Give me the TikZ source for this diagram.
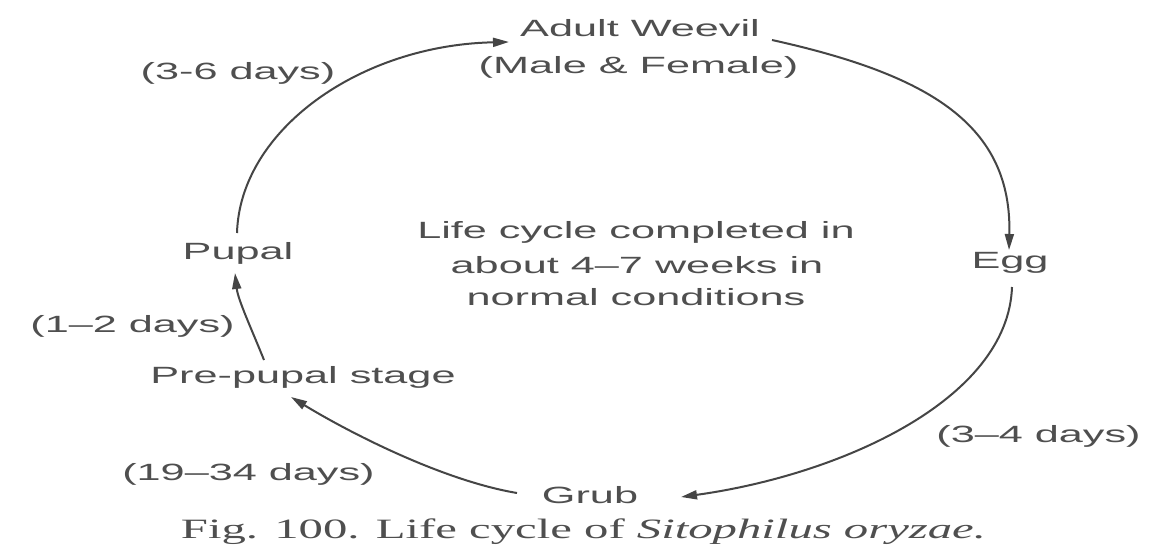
\documentclass[tikz,border=0pt]{standalone}
\usepackage{fontspec}
\usepackage{graphicx}
\setmainfont{Liberation Serif}
\newfontfamily\lblsans{Liberation Sans}
\usetikzlibrary{arrows.meta}
\definecolor{txtgray}{HTML}{4F4F4F}
\definecolor{linegray}{HTML}{454545}
\newcommand{\stretchtxt}[1]{\scalebox{1.84}[1]{#1}}
\newcommand{\stretchcap}[1]{\scalebox{1.74}[1]{#1}}
\tikzset{
  lbl/.style={inner sep=0pt, text=txtgray, font=\lblsans\fontsize{23.5}{28}\selectfont},
  caplbl/.style={inner sep=0pt, text=txtgray, font=\fontsize{28}{32}\selectfont},
  flow/.style={draw=linegray, line width=2pt, -{Triangle[length=16pt,width=9pt]}},
}
\begin{document}
\begin{tikzpicture}[x=1pt,y=-1pt]
\useasboundingbox[fill=white] (0,0) rectangle (1169,546);

% stage nodes
\node[lbl] (adult) at (640,28) {\stretchtxt{Adult Weevil}};
\node[lbl] (male) at (638.5,67) {\stretchtxt{(Male \& Female)}};
\node[lbl] (egg) at (1010,263) {\stretchtxt{Egg}};
\node[lbl] (grub) at (590,495) {\stretchtxt{Grub}};
\node[lbl] (prepupal) at (303,377) {\stretchtxt{Pre-pupal stage}};
\node[lbl] (pupal) at (238,253) {\stretchtxt{Pupal}};

% duration labels
\node[lbl] (d36) at (238,73) {\stretchtxt{(3-6 days)}};
\node[lbl] (d34) at (1038.5,436) {\stretchtxt{(3–4 days)}};
\node[lbl] (d1934) at (248.5,474) {\stretchtxt{(19–34 days)}};
\node[lbl] (d12) at (132.5,326) {\stretchtxt{(1–2 days)}};

% centre text
\node[lbl] (c1) at (636,232) {\stretchtxt{Life cycle completed in}};
\node[lbl] (c2) at (637,265) {\stretchtxt{about 4–7 weeks in}};
\node[lbl] (c3) at (636,297) {\stretchtxt{normal conditions}};

% caption
\node[caplbl] (cap) at (583.5,532) {\stretchcap{Fig. 100. Life cycle of \textit{Sitophilus oryzae.}}};

% connectors
\draw[flow] ([xshift=132pt,yshift=-12pt]adult.center)
  .. controls (930,75) and (1012,125) .. ([xshift=-1pt,yshift=13pt]egg.center);
\draw[flow] ([xshift=2pt,yshift=-24pt]egg.center)
  .. controls (1008,400) and (840,475) .. ([xshift=91pt,yshift=-2pt]grub.center);
\draw[flow] ([xshift=-73pt,yshift=2pt]grub.center)
  .. controls (440,480) and (345,430) .. ([xshift=-12pt,yshift=-20pt]prepupal.center);
\draw[flow] ([xshift=-39pt,yshift=17pt]prepupal.center)
  .. controls (252,330) and (238,300) .. ([xshift=-3pt,yshift=-20pt]pupal.center);
\draw[flow] ([xshift=-1pt,yshift=20pt]pupal.center)
  .. controls (240,130) and (360,45) .. ([xshift=-131pt,yshift=-14pt]adult.center);
\end{tikzpicture}
\end{document}
